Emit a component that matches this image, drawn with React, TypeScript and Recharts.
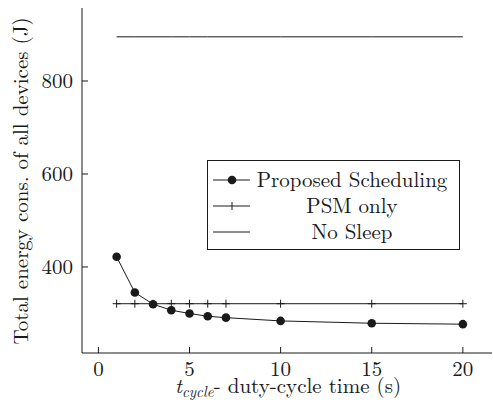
import { Line, LineChart, XAxis, YAxis } from "recharts";

const cycleTimes = [1, 2, 3, 4, 5, 6, 7, 10, 15, 20];
const proposed = [422, 345, 320, 307, 300, 294, 291, 284, 279, 277];
const psmOnly = [321, 321, 321, 321, 321, 321, 321, 321, 321, 321];
const noSleep = [895, 895, 895, 895, 895, 895, 895, 895, 895, 895];

const xTicks = [0, 5, 10, 15, 20];
const yTicks = [400, 600, 800];

const data = cycleTimes.map((t, i) => ({
  t,
  proposed: proposed[i],
  psm: psmOnly[i],
  nosleep: noSleep[i],
}));

const FONT = "Latin Modern Roman";
const INK = "#1a1a1a";
const FS = 21;
const tickFont = { fontSize: FS, fontFamily: FONT, fill: INK };

const PlusDot = (props: any) => {
  const { cx, cy } = props;
  if (cx == null || cy == null) return null;
  return (
    <g>
      <line x1={cx} x2={cx} y1={cy - 4} y2={cy + 4} stroke={INK} strokeWidth={1} />
      <line x1={cx - 4} x2={cx + 4} y1={cy} y2={cy} stroke={INK} strokeWidth={1} />
    </g>
  );
};

const legendRows = [
  { name: "Proposed Scheduling", kind: "dot" },
  { name: "PSM only", kind: "plus" },
  { name: "No Sleep", kind: "line" },
];

function LegendBox() {
  return (
    <div
      style={{
        position: "absolute",
        left: 207,
        top: 160,
        border: `1px solid ${INK}`,
        background: "#fff",
        width: 251,
        height: 84,
        boxSizing: "content-box",
        padding: "4px 0 0 0",
        fontFamily: FONT,
        fontSize: FS,
        lineHeight: "26px",
        color: INK,
      }}
    >
      {legendRows.map((r) => (
        <div key={r.name} style={{ display: "flex", alignItems: "center", height: 26 }}>
          <svg width={48} height={26} style={{ flex: "none" }}>
            <line x1={5} x2={42} y1={15} y2={15} stroke={INK} strokeWidth={1} />
            {r.kind === "dot" && <circle cx={24} cy={15} r={4.3} fill={INK} />}
            {r.kind === "plus" && (
              <line x1={24} x2={24} y1={11} y2={19} stroke={INK} strokeWidth={1} />
            )}
          </svg>
          <span style={{ flex: 1, textAlign: "center", whiteSpace: "nowrap", paddingRight: 11 }}>
            {r.name}
          </span>
        </div>
      ))}
    </div>
  );
}

export default function App() {
  return (
    <div style={{ position: "absolute", left: 0, top: 0, background: "#fff" }}>
      <LineChart
        width={493}
        height={407}
        data={data}
        margin={{ top: 8, right: 1, left: 0, bottom: 0 }}
      >
        <XAxis
          xAxisId="bottom"
          dataKey="t"
          type="number"
          domain={[-0.9, 21.6]}
          ticks={xTicks}
          allowDataOverflow
          axisLine={{ stroke: INK }}
          tickLine={{ stroke: INK }}
          tickSize={-6}
          tickMargin={14}
          tick={tickFont}
          height={54}
          label={{
            content: () => (
              <text x={288} y={393} textAnchor="middle" fontFamily={FONT} fontSize={FS} fill={INK}>
                <tspan fontStyle="italic">t</tspan>
                <tspan fontStyle="italic" fontSize={15} dy={4}>cycle</tspan>
                <tspan dy={-4}>- duty-cycle time (s)</tspan>
              </text>
            ),
          }}
        />
        <XAxis
          xAxisId="top"
          orientation="top"
          dataKey="t"
          type="number"
          domain={[-0.9, 21.6]}
          ticks={xTicks}
          allowDataOverflow
          axisLine={{ stroke: INK }}
          tickLine={{ stroke: INK }}
          tickSize={-6}
          tick={false}
          height={0}
        />
        <YAxis
          yAxisId="left"
          type="number"
          domain={[215, 957]}
          ticks={yTicks}
          allowDataOverflow
          axisLine={{ stroke: INK }}
          tickLine={{ stroke: INK }}
          tickSize={-6}
          tickMargin={15}
          tick={tickFont}
          width={82}
          label={{
            content: () => (
              <text
                x={28}
                y={181}
                transform="rotate(-90 28 181)"
                textAnchor="middle"
                fontFamily={FONT}
                fontSize={FS}
                fill={INK}
              >
                Total energy cons. of all devices (J)
              </text>
            ),
          }}
        />
        <YAxis
          yAxisId="right"
          orientation="right"
          type="number"
          domain={[215, 957]}
          ticks={yTicks}
          allowDataOverflow
          axisLine={{ stroke: INK }}
          tickLine={{ stroke: INK }}
          tickSize={-6}
          tick={false}
          width={0}
        />
        <Line
          xAxisId="bottom"
          yAxisId="left"
          dataKey="nosleep"
          stroke={INK}
          strokeWidth={1}
          dot={false}
          activeDot={false}
          isAnimationActive={false}
        />
        <Line
          xAxisId="bottom"
          yAxisId="left"
          dataKey="psm"
          stroke={INK}
          strokeWidth={1}
          dot={<PlusDot />}
          activeDot={false}
          isAnimationActive={false}
        />
        <Line
          xAxisId="bottom"
          yAxisId="left"
          dataKey="proposed"
          stroke={INK}
          strokeWidth={1}
          dot={{ r: 4.3, fill: INK, stroke: INK, strokeWidth: 0 }}
          activeDot={false}
          isAnimationActive={false}
        />
      </LineChart>
      <LegendBox />
    </div>
  );
}
